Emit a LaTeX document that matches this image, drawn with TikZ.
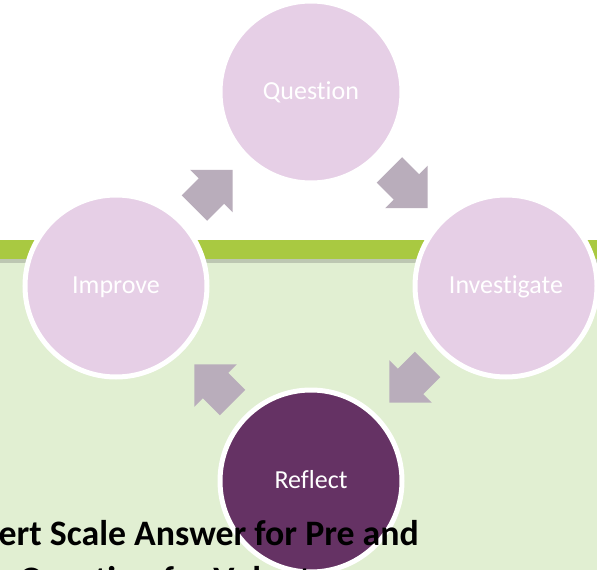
\documentclass[tikz,border=0pt]{standalone}
\usepackage{fontspec}
\setmainfont[Ligatures=NoCommon]{Carlito}
\usetikzlibrary{calc}
\definecolor{lilac}{HTML}{E6CFE6}
\definecolor{plum}{HTML}{653264}
\definecolor{arrowcol}{HTML}{B9ADBB}
\definecolor{bandg}{HTML}{A9C941}
\definecolor{shadowg}{HTML}{BDC7B2}
\definecolor{bgg}{HTML}{E1EFD2}
\tikzset{
  cyc/.style={circle, minimum size=182pt, inner sep=0pt, draw=white, line width=5pt,
    fill=lilac, text=white, text height=20pt, text depth=5.2pt,
    font=\fontsize{26}{31}\selectfont},
  cycdark/.style={cyc, fill=plum},
  barrow/.pic={\fill[arrowcol] (-27,-18) -- (-3,-18) -- (-3,-30) -- (27,0) -- (-3,30) -- (-3,18) -- (-27,18) -- cycle;},
  bigtext/.style={anchor=base west, inner sep=0pt, text=black, font=\bfseries\fontsize{35.8}{43}\selectfont}
}
\begin{document}
\begin{tikzpicture}[x=1pt,y=-1pt]
\useasboundingbox (0,0) rectangle (597,570);
\clip (0,0) rectangle (597,570);
\fill[white] (0,0) rectangle (597,570);
\fill[bgg] (0,263) rectangle (597,570);
\fill[shadowg] (0,258) rectangle (597,263);
\fill[bandg] (0,240) rectangle (597,259);
\node[cyc] (q) at (311,92) {Question};
\node[cyc] (inv) at (506,286) {Investigate};
\node[cycdark] (ref) at (311,481) {Reflect};
\node[cyc] (imp) at (116,286) {Improve};
\pic[rotate=45] at ($(imp)!0.5!(q)$) {barrow};
\pic[rotate=-45] at ($(q)!0.5!(inv)$) {barrow};
\pic[rotate=-135] at ($(inv)!0.5!(ref)$) {barrow};
\pic[rotate=135] at ($(ref)!0.5!(imp)$) {barrow};
\node[bigtext] (t1) at (-1.5,545) {ert Scale Answer for Pre and};
\node[bigtext] (t2) at (19,591) {Question for Volunteers};
\end{tikzpicture}
\end{document}
